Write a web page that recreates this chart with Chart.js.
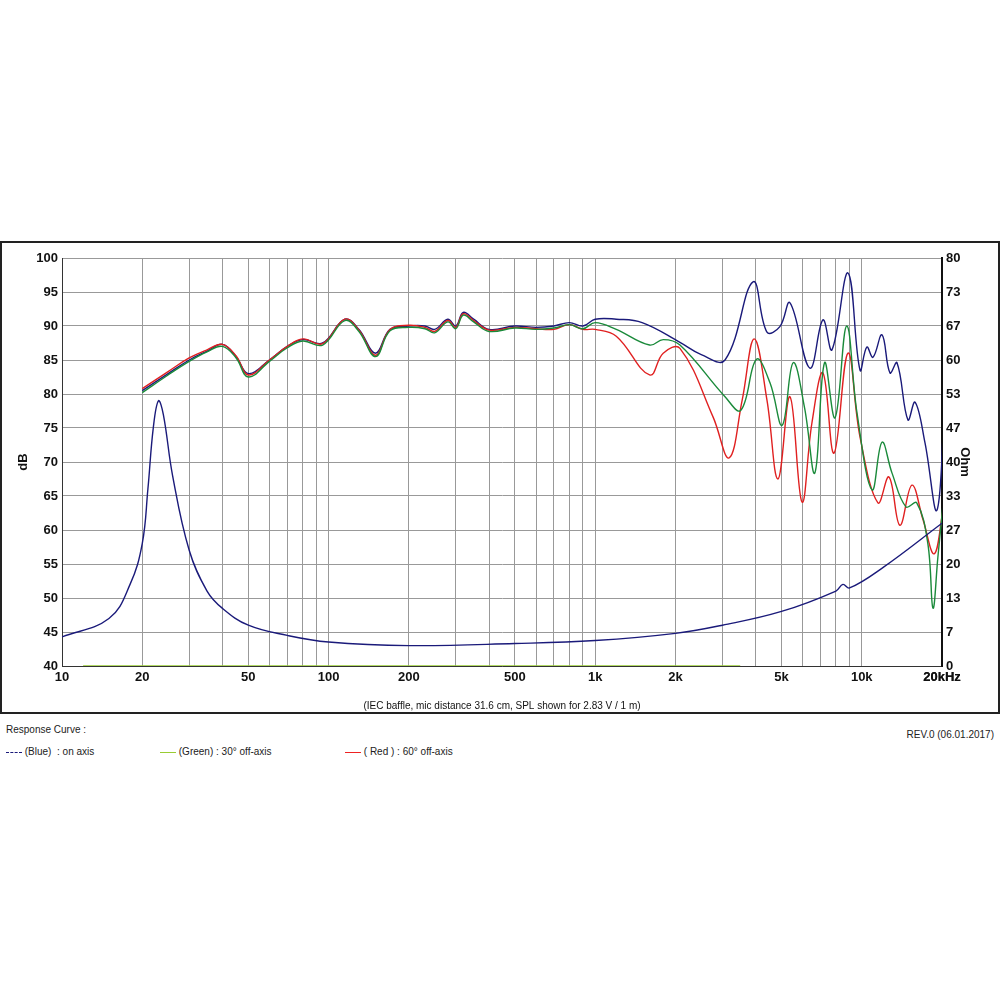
<!DOCTYPE html>
<html><head><meta charset="utf-8">
<script src="https://cdn.jsdelivr.net/npm/chart.js@4"></script>
<style>
body{margin:0;background:#fff;font-family:"Liberation Sans",Arial,sans-serif;}
#box{position:absolute;left:0;top:242px;width:1000px;height:470px;}
#frame{position:absolute;left:0;top:241px;width:996px;height:469px;border:2px solid #222;pointer-events:none;}
.t{position:absolute;font-size:10px;color:#222;}
</style></head><body>
<div id="box"><canvas id="c" width="1000" height="470"></canvas></div>
<div id="frame"></div>
<div class="t" style="left:6px;top:724px">Response Curve :</div>
<div class="t" style="right:6px;top:729px">REV.0 (06.01.2017)</div>
<div class="t" style="left:6px;top:746px"><span style="display:inline-block;width:16px;border-top:1px dashed #1a1a7a;vertical-align:middle"></span> (Blue)&nbsp; : on axis</div>
<div class="t" style="left:160px;top:746px"><span style="display:inline-block;width:16px;border-top:1px solid #9c3;vertical-align:middle"></span> (Green) : 30° off-axis</div>
<div class="t" style="left:345px;top:746px"><span style="display:inline-block;width:16px;border-top:1px solid #e22;vertical-align:middle"></span> ( Red ) : 60° off-axis</div>
<script>
const freqTicks=[10,20,50,100,200,500,1000,2000,5000,10000,20000];
const freqLabels=["10","20","50","100","200","500","1k","2k","5k","10k","20kHz"];
const ohmTicks=[0,7,13,20,27,33,40,47,53,60,67,73,80];

const spanLow=[20,25,30,35,40,45,50,60,70,80,95,115,130,150,170,200,230,250,280,300,320,350,400,500,600,700,800,900,1000,1200];
const blueLow=[80.5,83,85,86.3,87.3,85.5,83,85,87,88,87.5,91,89.5,86,89.5,90,90,89.5,91,90,92,91,89.5,90,89.8,90,90.5,90,91,91];
const greenLow=[80.2,82.8,84.8,86.2,87,85.3,82.5,84.8,86.8,87.8,87.2,90.8,89.2,85.5,89.3,89.8,89.6,89,90.6,89.6,91.6,90.6,89.2,89.7,89.5,89.7,90.2,89.6,90.5,89.5];
const redLow=[80.8,83.3,85.3,86.5,87.3,85.6,82.8,85,87,88.1,87.4,91,89.4,85.7,89.5,90.1,89.8,89.2,90.8,89.8,91.8,90.8,89.4,89.8,89.6,89.5,90.2,89.5,89.5,88.5];

const blueFreq=[1500,2080,2500,3070,3910,4410,4930,5380,6390,7150,7730,8880,9850,10450,11020,11910,12760,13560,14900,15850,17270,19140,20500];
const blueHigh=[90.5,87.6,85.8,85,96.5,89.1,89.9,93.4,83.8,90.9,86.5,97.8,83.5,86.9,85.4,88.7,83.1,84.6,76.2,78.8,72.8,62.9,79.1];
const greenFreq=[1600,1800,2080,3070,3520,4030,4530,5030,5530,6100,6670,7250,7940,8780,9600,10930,11910,12980,14650,16080,17700,18500,19300,20200];
const greenHigh=[87.2,88,87.2,79.6,77.6,85.1,81.6,75.4,84.6,78,68.4,84.6,76.5,90,77.2,65.9,72.9,68.4,63.4,64,58,48.5,56,64];
const redFreq=[1600,1800,2080,2770,3180,3560,3950,4410,4850,5380,5970,6500,7150,7870,8880,9850,11500,12650,13900,15420,16980,18700,20200];
const redHigh=[82.8,86,86.7,76.6,70.6,79.1,88.1,79.1,67.5,79.6,64.1,75.7,83.1,71.3,86,73.7,64,67.8,60.7,66.6,61.5,56.5,63];

const impFreq=[10,15,18,20,21,22,23,24,26,30,35,40,50,70,100,200,500,1000,2000,3000,5000,8000,8500,9000,12000,20000];
const impOhm=[5.7,9.3,16,24,34.7,46.7,52,49.3,37.3,22.7,14.7,11.3,8,6,4.7,4,4.4,5,6.4,8,10.7,14.7,16,15.3,19.3,28];
const baseFreq=[12,3500];
const baseVal=[40,40];

const pts=(f,v)=>f.map((x,i)=>({x,y:v[i]}));
const ds=(f,v,c,axis)=>({data:pts(f,v),borderColor:c,borderWidth:1.4,pointRadius:0,tension:0.4,fill:false,yAxisID:axis||'y'});
const gridX=[];for(let d=10;d<=10000;d*=10)for(let k=1;k<=9;k++){const v=d*k;if(v<=20000)gridX.push(v);}gridX.push(20000);
const font={family:"Liberation Sans",size:13,weight:'bold'};
new Chart(document.getElementById('c'),{
 type:'line',
 data:{datasets:[
  ds(baseFreq,baseVal,'#9c3'),
  ds(impFreq,impOhm,'#1a1a7a','y2'),
  ds(spanLow.concat(greenFreq),greenLow.concat(greenHigh),'#1a8a3a'),
  ds(spanLow.concat(redFreq),redLow.concat(redHigh),'#e02020'),
  ds(spanLow.concat(blueFreq),blueLow.concat(blueHigh),'#1a1a7a')
 ]},
 options:{responsive:false,animation:false,layout:{padding:{top:16,left:16,right:28,bottom:0}},
  plugins:{legend:{display:false},tooltip:{enabled:false}},
  scales:{
   x:{type:'logarithmic',min:10,max:20000,
    afterBuildTicks:s=>{s.ticks=gridX.map(v=>({value:v}));},
    afterFit:s=>{s.height=46;},
    ticks:{autoSkip:false,maxRotation:0,color:'#111',font,padding:4,callback:v=>{const i=freqTicks.indexOf(v);return i>=0?freqLabels[i]:'';}},
    grid:{color:'#999',lineWidth:1,drawTicks:false},border:{color:'#333',width:1},
    title:{display:true,text:'(IEC baffle, mic distance 31.6 cm, SPL shown for 2.83 V / 1 m)',font:{family:"Liberation Sans",size:10},color:'#111',padding:0}},
   y:{min:40,max:100,afterFit:s=>{s.width=46;},
    ticks:{stepSize:5,color:'#111',font,padding:4},
    grid:{color:'#999',drawTicks:false},border:{color:'#333'},
    title:{display:true,text:'dB',font,color:'#111',padding:0}},
   y2:{position:'right',min:0,max:80,afterFit:s=>{s.width=30;},
    afterBuildTicks:s=>{s.ticks=ohmTicks.map((t,i)=>({value:i*80/12,label:String(t)}));},
    ticks:{color:'#111',font,padding:4,callback:(v,i)=>String(ohmTicks[i])},
    grid:{display:false,drawTicks:false},border:{color:'#111',width:2},
    title:{display:true,text:'Ohm',font,color:'#111',padding:0}}
  }}
});
</script></body></html>
